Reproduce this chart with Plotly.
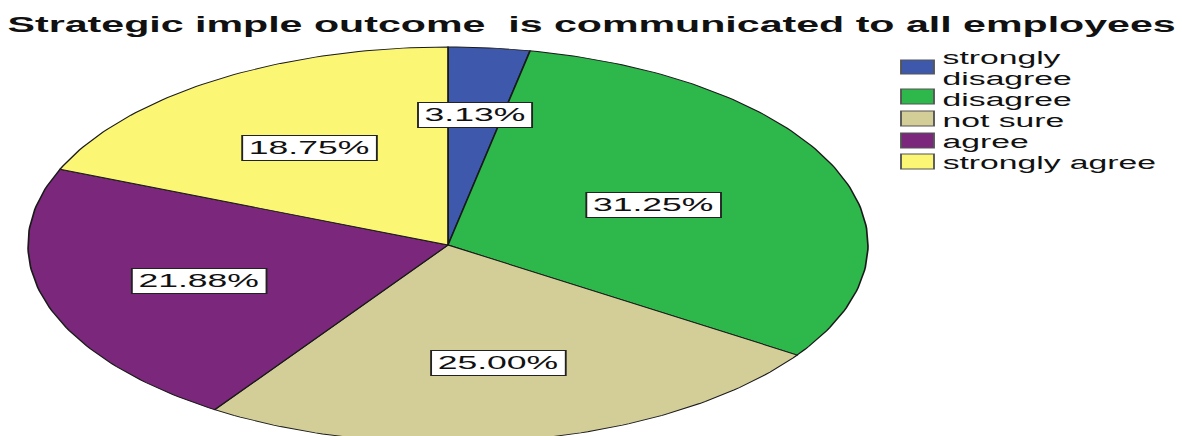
import numpy as np
import plotly.graph_objects as go

# ---- data -------------------------------------------------------------
categories = ["strongly disagree", "disagree", "not sure", "agree", "strongly agree"]
percents = [3.13, 31.25, 25.00, 21.88, 18.75]
colors = ["#3E58AC", "#2EB84B", "#D3CD97", "#7B287C", "#FBF673"]
legend_lines = [["strongly", "disagree"], ["disagree"], ["not sure"], ["agree"], ["strongly agree"]]
title_text = "Strategic imple outcome\u00a0 is communicated to all employees"

# ---- page geometry (final on-screen pixels) ----------------------------
OUT_W, H = 1182, 436
SX = 1.87                      # horizontal stretch applied to the whole chart
W = round(OUT_W / SX)
SX = OUT_W / W
PIE_CX, PIE_CY = 448, 245      # ellipse centre
PIE_RX, PIE_RY = 420, 198      # ellipse radii
label_radius = [0.66, 0.53, 0.61, 0.62, 0.59]

FONT = "Liberation Sans, Arial, sans-serif"


def px(xo):
    """screen x (after stretch) -> paper fraction"""
    return xo / SX / W


def py(yo):
    """screen y from top -> paper fraction"""
    return 1 - yo / H


fig = go.Figure()

# ---- pie slices: clockwise from 12 o'clock, unit circle stretched by axes
total = float(sum(percents))
bounds = np.concatenate([[0.0], np.cumsum(percents) / total]) * 2 * np.pi
for i, (cat, val, col) in enumerate(zip(categories, percents, colors)):
    t0, t1 = bounds[i], bounds[i + 1]
    n = max(8, int(np.degrees(t1 - t0)))
    th = np.linspace(t0, t1, n)
    xs = np.concatenate([[0.0], np.sin(th), [0.0]])
    ys = np.concatenate([[0.0], np.cos(th), [0.0]])
    fig.add_trace(go.Scatter(
        x=xs, y=ys, mode="lines", fill="toself", fillcolor=col,
        line=dict(color="#1a1a1a", width=0.9), name=cat,
        showlegend=False, hoverinfo="skip",
    ))
    tm = 0.5 * (t0 + t1)
    r = label_radius[i]
    fig.add_annotation(
        x=r * np.sin(tm), y=r * np.cos(tm), xref="x", yref="y",
        text=f"{val:.2f}%", showarrow=False,
        font=dict(family=FONT, size=19, color="#111"),
        bgcolor="white", bordercolor="#222", borderwidth=1, borderpad=3,
        height=18,
    )

# ---- legend drawn as swatches + text ----------------------------------
sw_x0, sw_x1 = 901, 934
sw_rows = [(60, 74), (89, 104), (111, 126), (133, 148), (154, 169)]
text_rows = [[58, 79], [100], [121], [142], [163]]
for i, col in enumerate(colors):
    y0, y1 = sw_rows[i]
    fig.add_shape(type="rect", xref="paper", yref="paper",
                  x0=px(sw_x0), x1=px(sw_x1), y0=py(y1), y1=py(y0),
                  fillcolor=col, line=dict(color="#555", width=1))
    for line, yy in zip(legend_lines[i], text_rows[i]):
        fig.add_annotation(
            x=px(940), y=py(yy), xref="paper", yref="paper",
            xanchor="left", yanchor="middle", showarrow=False, text=line,
            font=dict(family=FONT, size=18, color="#111"), borderpad=0,
        )

# ---- title -------------------------------------------------------------
fig.add_annotation(
    x=px(592), y=py(24), xref="paper", yref="paper",
    xanchor="center", yanchor="middle", showarrow=False,
    text=f"<b>{title_text}</b>",
    font=dict(family=FONT, size=22, color="#111"),
)

fig.update_layout(
    width=W, height=H,
    margin=dict(l=0, r=0, t=0, b=0),
    paper_bgcolor="white", plot_bgcolor="white",
    xaxis=dict(range=[-PIE_CX / PIE_RX, (OUT_W - PIE_CX) / PIE_RX],
               visible=False, fixedrange=True, domain=[0, 1]),
    yaxis=dict(range=[-(H - PIE_CY) / PIE_RY, PIE_CY / PIE_RY],
               visible=False, fixedrange=True, domain=[0, 1]),
    showlegend=False,
)

# stretch the rendered chart horizontally across the page
post = (
    "var gd = document.getElementById('{plot_id}');"
    "document.body.style.margin = '0';"
    "gd.style.transformOrigin = '0 0';"
    "gd.style.transform = 'scaleX(" + repr(SX) + ")';"
)
fig.write_html("out.html", config={"displayModeBar": False}, post_script=post)
